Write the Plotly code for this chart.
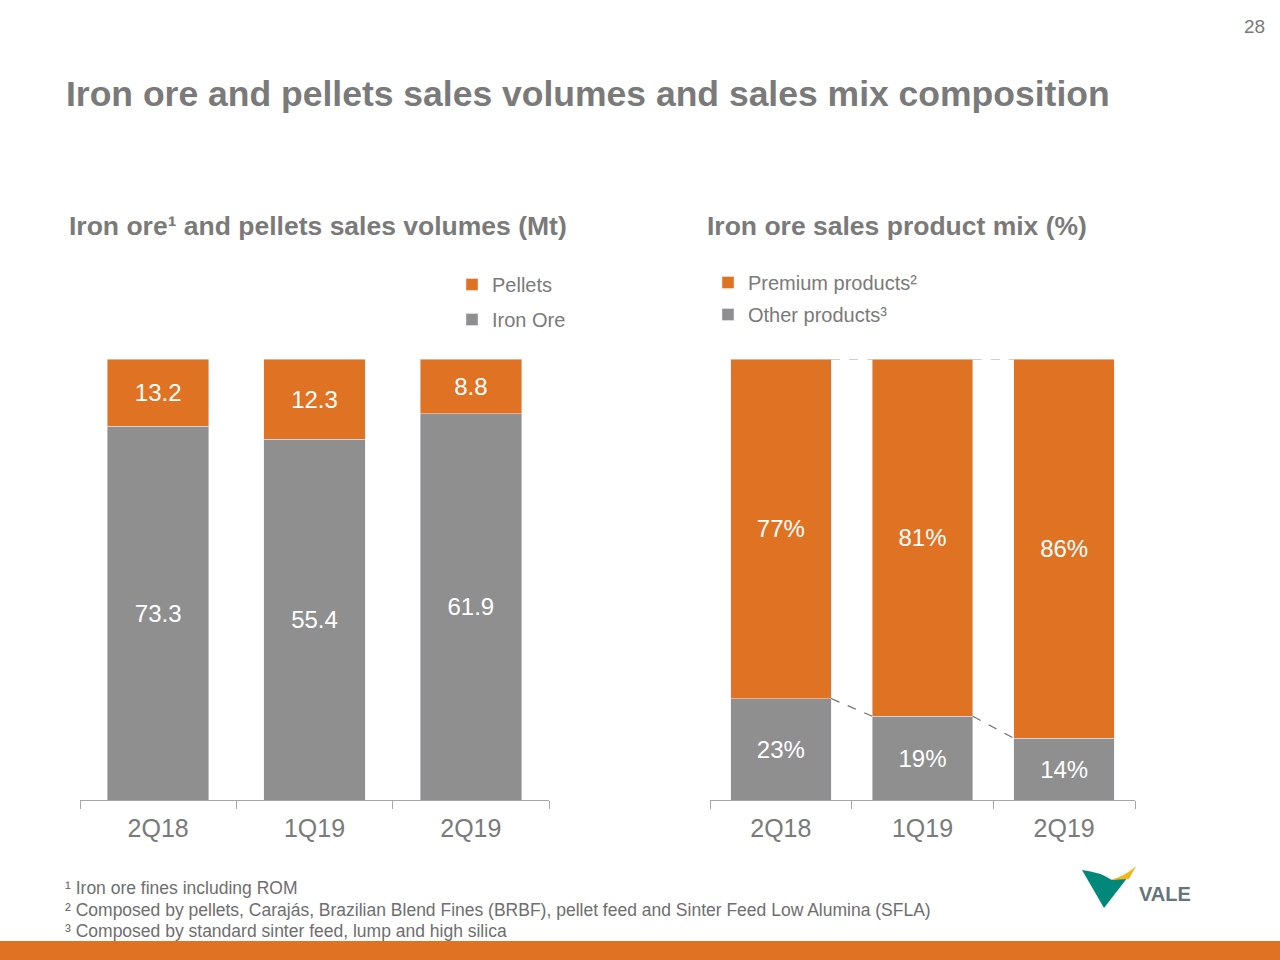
import plotly.graph_objects as go

# ---------------- data ----------------
quarters = ["2Q18", "1Q19", "2Q19"]
iron_ore_mt = [73.3, 55.4, 61.9]
pellets_mt = [13.2, 12.3, 8.8]

premium_pct = [77, 81, 86]
other_pct = [23, 19, 14]

title_text = "Iron ore and pellets sales volumes and sales mix composition"
left_title = "Iron ore¹ and pellets sales volumes (Mt)"
right_title = "Iron ore sales product mix (%)"
footnotes = [
    "¹ Iron ore fines including ROM",
    "² Composed by pellets, Carajás, Brazilian Blend Fines (BRBF), pellet feed and Sinter Feed Low Alumina (SFLA)",
    "³ Composed by standard sinter feed, lump and high silica",
]
page_number = "28"

# ---------------- style ----------------
ORANGE = "#E07224"
GRAY = "#8F8F8F"
TEXT_GRAY = "#7A7A7A"
FONT = "Liberation Sans, Arial, Helvetica, sans-serif"
W, H = 1280, 960


def px_x(x):
    return x / W


def px_y(y):
    return 1 - y / H


totals = [a + b for a, b in zip(iron_ore_mt, pellets_mt)]
iron_share = [a / t * 100 for a, t in zip(iron_ore_mt, totals)]
pellet_share = [b / t * 100 for b, t in zip(pellets_mt, totals)]

LW = 0.65  # left bar width (category units)
RW = 0.71  # right bar width

fig = go.Figure()

label_font = dict(color="white", size=24, family=FONT)

fig.add_trace(go.Bar(
    x=quarters, y=iron_share, name="Iron Ore", marker_color=GRAY,
    text=[f"{v:.1f}" for v in iron_ore_mt], textposition="inside",
    insidetextanchor="middle", textangle=0, textfont=label_font,
    width=LW, xaxis="x", yaxis="y", legend="legend", legendrank=2,
    legendgroup="io", hoverinfo="skip",
))
fig.add_trace(go.Bar(
    x=quarters, y=pellet_share, name="Pellets", marker_color=ORANGE,
    text=[f"{v:.1f}" for v in pellets_mt], textposition="inside",
    insidetextanchor="middle", textangle=0, textfont=label_font,
    width=LW, xaxis="x", yaxis="y", legend="legend", legendrank=1,
    legendgroup="pe", hoverinfo="skip",
))
fig.add_trace(go.Bar(
    x=quarters, y=other_pct, name="Other products³", marker_color=GRAY,
    text=[f"{v}%" for v in other_pct], textposition="inside",
    insidetextanchor="middle", textangle=0, textfont=label_font,
    width=RW, xaxis="x2", yaxis="y2", legend="legend2", legendrank=2,
    legendgroup="ot", hoverinfo="skip",
))
fig.add_trace(go.Bar(
    x=quarters, y=premium_pct, name="Premium products²", marker_color=ORANGE,
    text=[f"{v}%" for v in premium_pct], textposition="inside",
    insidetextanchor="middle", textangle=0, textfont=label_font,
    width=RW, xaxis="x2", yaxis="y2", legend="legend2", legendrank=1,
    legendgroup="pr", hoverinfo="skip",
))

ydom = [px_y(800), px_y(359)]
axis_common = dict(
    type="category", showline=True, linecolor="#A6A6A6", linewidth=1,
    ticks="outside", tickson="boundaries", ticklen=8, tickcolor="#A6A6A6",
    ticklabelstandoff=6,
    tickfont=dict(size=25, color=TEXT_GRAY, family=FONT), showgrid=False,
    zeroline=False, fixedrange=True,
)
shapes = []
# dashed connectors on the right chart
for i in range(len(quarters) - 1):
    x0 = i + RW / 2
    x1 = i + 1 - RW / 2
    shapes.append(dict(type="line", xref="x2", yref="y2", x0=x0, x1=x1,
                       y0=100, y1=100,
                       line=dict(color="#A0A0A0", width=1.2, dash="dash")))
    shapes.append(dict(type="line", xref="x2", yref="y2", x0=x0, x1=x1,
                       y0=other_pct[i], y1=other_pct[i + 1],
                       line=dict(color="#707070", width=1.2, dash="dash")))
# bottom orange band
shapes.append(dict(type="rect", xref="paper", yref="paper", x0=0, x1=1,
                   y0=0, y1=px_y(941), fillcolor=ORANGE, line_width=0,
                   layer="above"))
# VALE logo (approximation)
shapes.append(dict(type="path", xref="paper", yref="paper",
                   path=(f"M {px_x(1082)},{px_y(870)} "
                         f"Q {px_x(1100)},{px_y(872)} {px_x(1112)},{px_y(880)} "
                         f"L {px_x(1128)},{px_y(877)} "
                         f"L {px_x(1104)},{px_y(908)} Z"),
                   fillcolor="#00897B", line_width=0))
shapes.append(dict(type="path", xref="paper", yref="paper",
                   path=(f"M {px_x(1110)},{px_y(880)} "
                         f"Q {px_x(1124)},{px_y(877)} {px_x(1136)},{px_y(866)} "
                         f"L {px_x(1129)},{px_y(879)} Z"),
                   fillcolor="#F2B51C", line_width=0))

annotations = []
annotations.append(dict(text=f"<b>{title_text}</b>", xref="paper", yref="paper",
                        x=px_x(64), y=px_y(94), xanchor="left", yanchor="middle",
                        showarrow=False,
                        font=dict(size=35.5, color=TEXT_GRAY, family=FONT)))
annotations.append(dict(text=f"<b>{left_title}</b>", xref="paper", yref="paper",
                        x=px_x(67), y=px_y(226), xanchor="left", yanchor="middle",
                        showarrow=False, font=dict(size=26.5, color=TEXT_GRAY, family=FONT)))
annotations.append(dict(text=f"<b>{right_title}</b>", xref="paper", yref="paper",
                        x=px_x(705), y=px_y(226), xanchor="left", yanchor="middle",
                        showarrow=False, font=dict(size=26.5, color=TEXT_GRAY, family=FONT)))
for k, note in enumerate(footnotes):
    annotations.append(dict(text=note, xref="paper", yref="paper",
                            x=px_x(63), y=px_y(888 + 21.5 * k), xanchor="left",
                            yanchor="middle", showarrow=False,
                            font=dict(size=17.5, color="#6E6E6E", family=FONT)))
annotations.append(dict(text=page_number, xref="paper", yref="paper",
                        x=px_x(1267), y=px_y(27), xanchor="right", yanchor="middle",
                        showarrow=False, font=dict(size=19, color=TEXT_GRAY, family=FONT)))
annotations.append(dict(text="<b>VALE</b>", xref="paper", yref="paper",
                        x=px_x(1137), y=px_y(894), xanchor="left", yanchor="middle",
                        showarrow=False, font=dict(size=20, color="#66757A", family=FONT)))

legend_common = dict(
    font=dict(size=20, color=TEXT_GRAY, family=FONT), bgcolor="rgba(0,0,0,0)",
    xanchor="left", yanchor="top", itemclick=False, itemdoubleclick=False,
    itemwidth=30,
)

fig.update_layout(
    width=W, height=H, margin=dict(l=0, r=0, t=0, b=0),
    paper_bgcolor="white", plot_bgcolor="white",
    barmode="stack", font=dict(family=FONT, color=TEXT_GRAY),
    xaxis=dict(domain=[px_x(80), px_x(549)], anchor="y", **axis_common),
    yaxis=dict(domain=ydom, range=[0, 100], visible=False, fixedrange=True),
    xaxis2=dict(domain=[px_x(710), px_x(1135)], anchor="y2", **axis_common),
    yaxis2=dict(domain=ydom, range=[0, 100], visible=False, fixedrange=True),
    legend=dict(x=px_x(452), y=px_y(265), tracegroupgap=6, **legend_common),
    legend2=dict(x=px_x(708), y=px_y(263), tracegroupgap=3, **legend_common),
    shapes=shapes, annotations=annotations, showlegend=True,
)

fig.write_html(
    "out.html",
    config={"displayModeBar": False},
    post_script="document.body.style.margin='0';document.body.style.overflow='hidden';",
)
